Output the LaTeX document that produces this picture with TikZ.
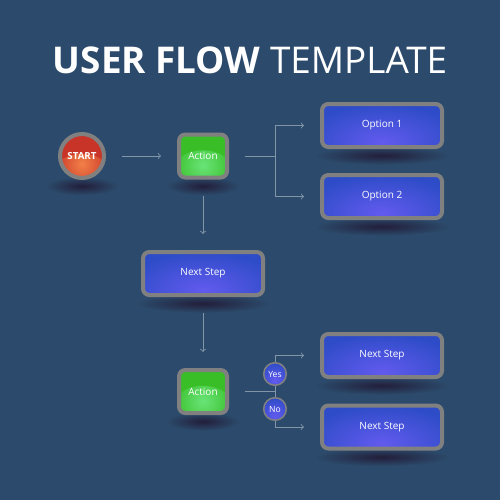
\documentclass[tikz,border=0pt]{standalone}
\usepackage{fontspec}
\setmainfont{Open Sans}
\usetikzlibrary{backgrounds}

\definecolor{bgcol}{RGB}{44,75,108}
\definecolor{rimgray}{RGB}{128,128,128}
\definecolor{boxblue}{RGB}{46,76,200}
\definecolor{blueglow}{RGB}{98,90,238}
\definecolor{boxgreen}{RGB}{58,190,40}
\definecolor{greenglow}{RGB}{104,228,120}
\definecolor{startred}{RGB}{200,52,40}
\definecolor{redglow}{RGB}{242,128,72}
\definecolor{linecol}{RGB}{130,148,168}
\definecolor{shadowcol}{RGB}{34,30,58}

\tikzset{
  glow/.style n args={4}{fill=#1, path picture={\shade[inner color=#2, outer color=#1] ([yshift=3pt]path picture bounding box.south) ellipse [x radius=#3, y radius=#4];}},
  card/.style={draw=rimgray, line width=2.8pt, rounded corners=4.5pt, inner sep=0pt, outer sep=12.6pt, minimum height=30.1pt, text=white, font=\fontsize{7}{8.5}\selectfont},
  stepbox/.style={card, minimum width=84pt, glow={boxblue}{blueglow}{56pt}{26pt}},
  actionbox/.style={card, minimum width=33.6pt, glow={boxgreen}{greenglow}{22pt}{16pt}},
  startnode/.style={circle, draw=rimgray, line width=2.8pt, inner sep=0pt, outer sep=12.6pt, minimum size=30.8pt, text=white, font=\bfseries\fontsize{6.8}{8}\selectfont, glow={startred}{redglow}{20pt}{14pt}},
  choice/.style={circle, draw=rimgray, line width=1.1pt, inner sep=0pt, minimum size=15.8pt, text=white, font=\fontsize{6}{7}\selectfont, glow={boxblue}{blueglow}{12pt}{12pt}},
  flow/.style={draw=linecol, line width=0.6pt},
}

\begin{document}
\begin{tikzpicture}[x=0.7pt, y=-0.7pt]
  \useasboundingbox (0,0) rectangle (500,500);

  \node[text=white, font=\fontsize{25.8}{30}\selectfont] (title) at (250,60) {\textbf{USER FLOW} TEMPLATE};

  \node[startnode] (start) at (82,156) {START};
  \node[actionbox] (act1) at (203,156) {Action};
  \node[stepbox] (opt1) at (382,125.5) {Option 1};
  \node[stepbox] (opt2) at (382,196.5) {Option 2};
  \node[stepbox] (step) at (203,273.5) {Next Step};
  \node[actionbox] (act2) at (203,391.5) {Action};
  \node[stepbox] (ns1) at (382,355.5) {Next Step};
  \node[stepbox] (ns2) at (382,427) {Next Step};

  \coordinate (j1) at (275,156);
  \coordinate (j2) at (275,391.5);

  \draw[flow,->] (start) -- (act1);
  \draw[flow] (act1) -- (j1);
  \draw[flow,->] (j1) |- (opt1);
  \draw[flow,->] (j1) |- (opt2);
  \draw[flow,->] (act1) -- (step);
  \draw[flow,->] (step) -- (act2);
  \draw[flow] (act2) -- (j2);
  \draw[flow,->] (j2) |- (ns1);
  \draw[flow,->] (j2) |- (ns2);

  \node[choice] (yes) at (275,374) {Yes};
  \node[choice] (no) at (275,409) {No};

  \begin{scope}[on background layer]
    \fill[bgcol] (0,0) rectangle (500,500);
    \foreach \n/\r in {start/26pt, act1/26pt, act2/26pt, opt1/48pt, opt2/48pt, step/48pt, ns1/48pt, ns2/48pt}
      \shade[inner color=shadowcol, outer color=bgcol] ([yshift=-21pt]\n.center) ellipse [x radius=\r, y radius=6.5pt];
  \end{scope}
\end{tikzpicture}
\end{document}
